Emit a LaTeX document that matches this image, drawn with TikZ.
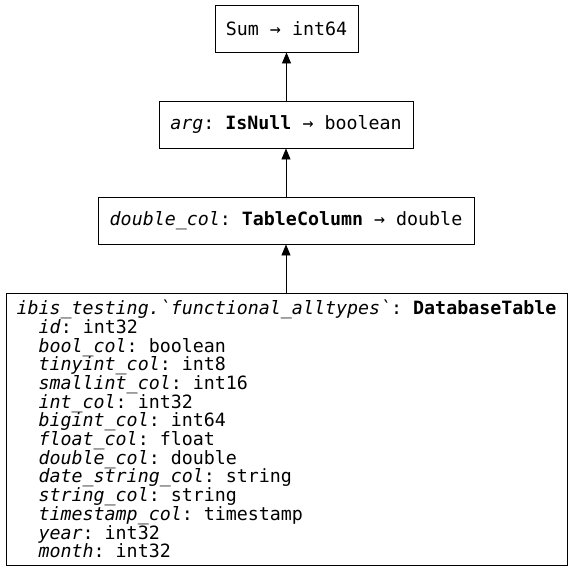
\documentclass[tikz,border=0pt]{standalone}
\usepackage{fontspec}
\newfontfamily\dvm{DejaVu Sans Mono}
\usetikzlibrary{arrows.meta}
\newcommand{\ind}{\hphantom{xx}}
\newcommand{\us}{\_}
\begin{document}
\begin{tikzpicture}[x=1pt,y=-1pt,
  every node/.style={font={\dvm\fontsize{18.3}{18.7}\selectfont\frenchspacing}, inner sep=0pt},
  opbox/.style={draw, line width=0.9pt, minimum height=47pt},
  edge/.style={line width=0.9pt, -{Triangle[length=11pt,width=9pt]}}]
\useasboundingbox (0,0) rectangle (573,571);
\node[opbox, minimum width=143pt] (sum) at (286.5,28.5) {Sum → int64};
\node[opbox, minimum width=254pt] (isnull) at (286,124.5) {\textit{arg}: \textbf{IsNull} → boolean};
\node[opbox, minimum width=376pt] (col) at (286,220.5) {\textit{double\us col}: \textbf{TableColumn} → double};
\node[draw, line width=0.9pt, minimum width=561pt, minimum height=272pt, align=left] (tbl) at (286.5,429) {%
\textit{ibis\us testing.\textasciigrave functional\us alltypes\textasciigrave}: \textbf{DatabaseTable}\\
\ind\textit{id}: int32\\
\ind\textit{bool\us col}: boolean\\
\ind\textit{tinyint\us col}: int8\\
\ind\textit{smallint\us col}: int16\\
\ind\textit{int\us col}: int32\\
\ind\textit{bigint\us col}: int64\\
\ind\textit{float\us col}: float\\
\ind\textit{double\us col}: double\\
\ind\textit{date\us string\us col}: string\\
\ind\textit{string\us col}: string\\
\ind\textit{timestamp\us col}: timestamp\\
\ind\textit{year}: int32\\
\ind\textit{month}: int32};
\draw[edge] (tbl.north -| col) -- (col.south);
\draw[edge] (col.north -| isnull) -- (isnull.south);
\draw[edge] (isnull.north -| sum) -- (sum.south);
\end{tikzpicture}
\end{document}
